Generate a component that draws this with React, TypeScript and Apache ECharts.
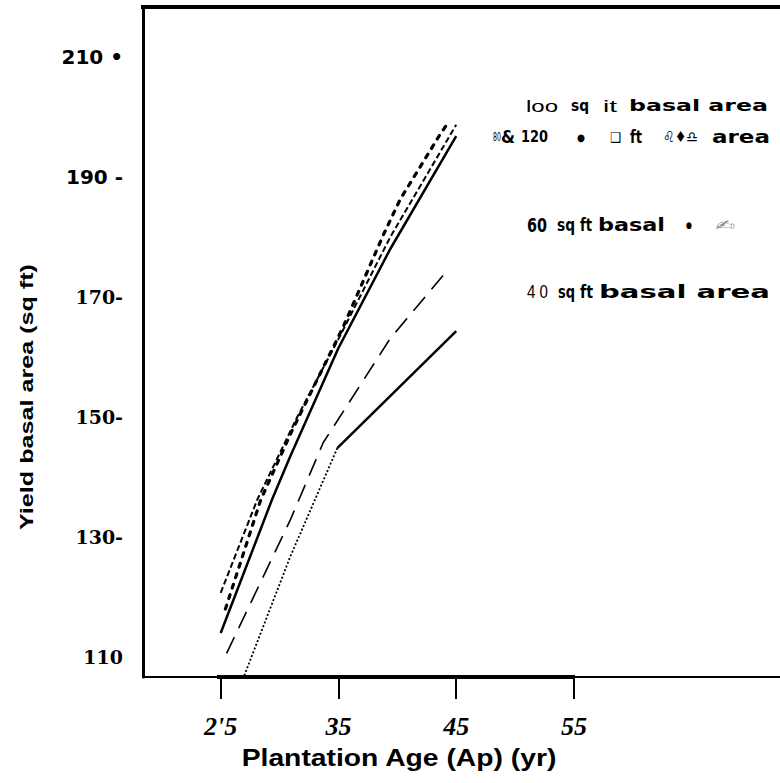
import React, { useEffect, useRef } from "react";
import * as echarts from "echarts";

// ---- data ----
const xTickValues = [25, 35, 45, 55];
const xTickLabels = ["2'5", "35", "45", "55"];
const yTickValues = [110, 130, 150, 170, 190, 210];
const yTickLabels = ["110", "130-", "150-", "170-", "190 -", "210 •"];

// top group (80, 100 & 120 sq ft basal area)
const dashedAges = [25, 28.1, 31.5, 35, 39.4, 45];
const dashedVals = [120.7, 136.2, 150, 163, 180, 198.7];
const dottedAges = [25.4, 28.4, 31, 35.4, 38.8, 40.25, 43.6, 44.3];
const dottedVals = [118, 136.2, 147.5, 165, 180.3, 186.3, 197, 199];
const solidAges = [25, 29.35, 30.9, 35, 39.4, 45];
const solidVals = [114, 136.2, 143.4, 161.5, 178, 196.8];
// 60 sq ft basal area
const sixtyAges = [25.5, 30.9, 33.7, 39.4, 44.4];
const sixtyVals = [110.6, 132.8, 145.7, 163.1, 174.8];
// 40 sq ft basal area (dotted, then solid after the break at 35)
const fortyLowAges = [27.0, 30.9, 34.9];
const fortyLowVals = [106.9, 126.7, 144.8];
const fortyHighAges = [34.9, 45];
const fortyHighVals = [144.8, 164.3];

const pairs = (a: number[], b: number[]) => a.map((x, i) => [x, b[i]]);

const SANS = "Liberation Sans";
const SERIF = "Liberation Serif";
const HEAVY = "DejaVu Sans";
const COND = "DejaVu Sans Condensed";

// legend words: text, left x, right x, centre y, family, weight, size, colour
const legendWords: [string, number, number, number, string, string, number, string][] = [
  ["loo", 526, 558, 106, SANS, "normal", 17, "#000"],
  ["sq", 571, 589, 106, HEAVY, "bold", 15, "#000"],
  ["it", 603, 617, 106, SANS, "normal", 17, "#000"],
  ["basal area", 629, 768, 106, HEAVY, "bold", 15, "#000"],
  ["80", 493, 501, 137, COND, "normal", 12, "#000"],
  ["&", 501, 515, 137, HEAVY, "bold", 17, "#000"],
  ["120", 521, 548, 137, HEAVY, "bold", 15, "#000"],
  ["●", 577, 585, 137, HEAVY, "normal", 10, "#000"],
  ["❑", 610, 621, 137, HEAVY, "normal", 14, "#000"],
  ["ft", 630, 642, 137, HEAVY, "bold", 17, "#000"],
  ["♌♦♎", 663, 698, 137, HEAVY, "normal", 15, "#000"],
  ["area", 712, 770, 137, HEAVY, "bold", 17, "#000"],
  ["60", 527, 547, 225, HEAVY, "bold", 20, "#000"],
  ["sq", 557, 575, 225, HEAVY, "bold", 17, "#000"],
  ["ft", 580, 592, 225, HEAVY, "bold", 17, "#000"],
  ["basal", 598, 665, 225, HEAVY, "bold", 18, "#000"],
  ["●", 686, 692, 225, HEAVY, "normal", 9, "#000"],
  ["✍", 715, 735, 225, HEAVY, "normal", 14, "#888"],
  ["4 0", 527, 548, 292, SANS, "normal", 18, "#000"],
  ["sq", 558, 575, 292, HEAVY, "bold", 17, "#000"],
  ["ft", 580, 593, 292, HEAVY, "bold", 17, "#000"],
  ["basal area", 599, 770, 292, HEAVY, "bold", 18, "#000"],
];

let measureCtx: CanvasRenderingContext2D | null = null;
function measure(text: string, family: string, weight: string, size: number) {
  if (!measureCtx) measureCtx = document.createElement("canvas").getContext("2d");
  if (!measureCtx) return text.length * size * 0.6;
  measureCtx.font = `${weight} ${size}px "${family}"`;
  return measureCtx.measureText(text).width || text.length * size * 0.6;
}

function fitText(
  text: string, x0: number, x1: number, y: number,
  family: string, weight: string, size: number, fill: string,
) {
  const w = measure(text, family, weight, size);
  return {
    type: "text",
    x: x0,
    y,
    scaleX: (x1 - x0) / w,
    style: {
      text, fontFamily: family, fontWeight: weight, fontSize: size, fill,
      textAlign: "left", textVerticalAlign: "middle",
    },
    z: 10,
  };
}

function centredText(
  text: string, cx: number, cy: number, length: number,
  family: string, weight: string, size: number, rotation = 0,
) {
  const w = measure(text, family, weight, size);
  return {
    type: "text",
    x: cx,
    y: cy,
    rotation,
    scaleX: length / w,
    style: {
      text, fontFamily: family, fontWeight: weight, fontSize: size, fill: "#000",
      textAlign: "center", textVerticalAlign: "middle",
    },
    z: 10,
  };
}

export default function App() {
  const ref = useRef<HTMLDivElement>(null);
  useEffect(() => {
    if (!ref.current) return;
    const chart = echarts.init(ref.current, null, { renderer: "svg" });
    const line = (name: string, data: number[][], lineStyle: any) => ({
      name,
      type: "line",
      data,
      symbol: "none",
      smooth: false,
      lineStyle: { color: "#000", ...lineStyle },
      z: 3,
    });
    chart.setOption({
      animation: false,
      backgroundColor: "#fff",
      grid: { left: 143, right: 0, top: 7, bottom: 106, containLabel: false },
      xAxis: {
        type: "value",
        min: 18.4,
        max: 72.5,
        splitLine: { show: false },
        axisLine: { show: true, lineStyle: { color: "#000", width: 2 } },
        axisTick: {
          show: true,
          customValues: xTickValues,
          length: 22,
          lineStyle: { color: "#000", width: 2 },
        },
        axisLabel: {
          customValues: xTickValues,
          margin: 36,
          formatter: (v: number) => xTickLabels[xTickValues.indexOf(v)] ?? "",
          fontFamily: SERIF,
          fontWeight: "bold",
          fontStyle: "italic",
          fontSize: 26,
          color: "#000",
        },
      },
      yAxis: {
        type: "value",
        min: 106.67,
        max: 218.33,
        splitLine: { show: false },
        axisLine: { show: true, lineStyle: { color: "#000", width: 3 } },
        axisTick: { show: false },
        axisLabel: {
          customValues: yTickValues,
          margin: 20,
          formatter: (v: number) => {
            const t = yTickLabels[yTickValues.indexOf(v)] ?? "";
            return v >= 190 ? `{s|${t}}` : `{r|${t}}`;
          },
          rich: {
            s: { fontFamily: HEAVY, fontWeight: "bold", fontSize: 20, color: "#000" },
            r: { fontFamily: "DejaVu Serif", fontWeight: "bold", fontSize: 19, color: "#000" },
          },
        },
      },
      series: [
        line("80 sq ft basal area", pairs(dashedAges, dashedVals), { width: 2, type: [6, 3] }),
        line("100 sq ft basal area", pairs(dottedAges, dottedVals), { width: 3.2, type: [4, 7], cap: "round" }),
        line("120 sq ft basal area", pairs(solidAges, solidVals), { width: 2.5, type: "solid" }),
        line("60 sq ft basal area", pairs(sixtyAges, sixtyVals), { width: 1.6, type: [18, 10] }),
        line("40 sq ft basal area", pairs(fortyLowAges, fortyLowVals), { width: 1.8, type: [2, 2] }),
        line("40 sq ft basal area (b)", pairs(fortyHighAges, fortyHighVals), { width: 2.5, type: "solid" }),
      ],
      graphic: [
        { type: "line", shape: { x1: 141, y1: 7, x2: 780, y2: 7 }, style: { stroke: "#000", lineWidth: 4 } },
        { type: "rect", shape: { x: 217, y: 675, width: 358, height: 4 }, style: { fill: "#000" } },
        centredText("Yield basal area (sq ft)", 27, 397, 266, SANS, "bold", 19, Math.PI / 2),
        centredText("Plantation Age (Ap) (yr)", 399, 758, 316, SANS, "bold", 23),
        ...legendWords.map((w) => fitText(w[0], w[1], w[2], w[3], w[4], w[5], w[6], w[7])),
      ],
    });
    return () => chart.dispose();
  }, []);
  return (
    <div
      ref={ref}
      style={{ position: "absolute", left: 0, top: 0, width: 780, height: 783 }}
    />
  );
}
